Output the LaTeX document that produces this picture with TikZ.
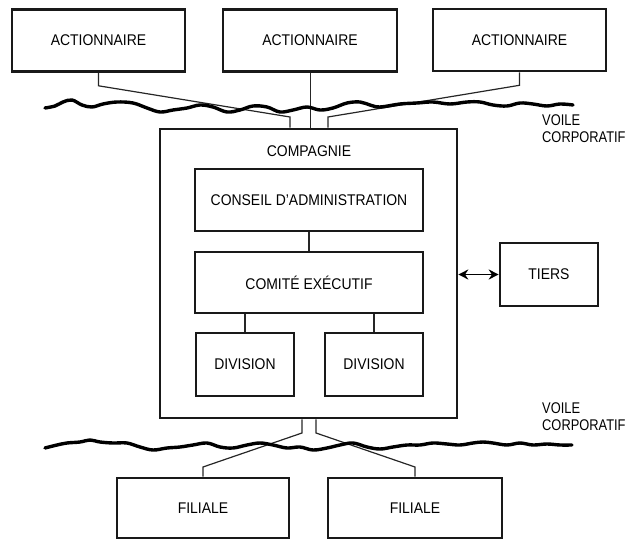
\documentclass[tikz,border=0pt]{standalone}
\usepackage{fontspec}
\setmainfont{Liberation Sans}[FakeStretch=0.9]
\newfontfamily\veilfont{Liberation Sans}[FakeStretch=0.83]
\usetikzlibrary{arrows.meta}
\begin{document}
\begin{tikzpicture}[x=1pt,y=-1pt,
  box/.style={draw=black!90,line width=2.6pt,inner sep=0pt,font=\fontsize{15.5}{17}\selectfont},
  conn/.style={line width=1.2pt,black!85},
  wave/.style={line width=3.4pt,line cap=round,line join=round},
  lbl/.style={font=\veilfont\fontsize{15.5}{17.5}\selectfont,align=left,anchor=north west,inner sep=0pt}]
\useasboundingbox (0,0) rectangle (632,540);
% top shareholders
\node[box,minimum width=173pt,minimum height=62pt] (act1) at (98.5,40.5) {ACTIONNAIRE};
\node[box,minimum width=174pt,minimum height=62pt] (act2) at (310,40.5) {ACTIONNAIRE};
\node[box,minimum width=173pt,minimum height=62pt] (act3) at (519.5,40) {ACTIONNAIRE};
% company
\node[box,minimum width=297pt,minimum height=289pt] (comp) at (308.5,273.5) {};
\node[font=\fontsize{15.5}{17}\selectfont] (compt) at (309,151) {COMPAGNIE};
\node[box,minimum width=228pt,minimum height=62pt] (cons) at (309,200) {CONSEIL D’ADMINISTRATION};
\node[box,minimum width=228pt,minimum height=61pt] (comi) at (309,282.5) {COMITÉ EXÉCUTIF};
\node[box,minimum width=98pt,minimum height=63pt] (div1) at (245,364.5) {DIVISION};
\node[box,minimum width=98pt,minimum height=63pt] (div2) at (374,364.5) {DIVISION};
\node[box,minimum width=98pt,minimum height=63pt] (tiers) at (549,274.5) {TIERS};
% subsidiaries
\node[box,minimum width=172pt,minimum height=60pt] (fil1) at (203,508) {FILIALE};
\node[box,minimum width=174pt,minimum height=60pt] (fil2) at (415,508) {FILIALE};
% labels
\node[lbl] (v1) at (542,114) {VOILE\\CORPORATIF};
\node[lbl] (v2) at (542,402) {VOILE\\CORPORATIF};
% connectors inside
\draw[conn] (cons.south) -- (comi.north);
\draw[conn,line width=1.6pt] (div1.north) -- (div1.north |- comi.south);
\draw[conn,line width=1.6pt] (div2.north) -- (div2.north |- comi.south);
\draw[line width=1.6pt,{Stealth[length=10pt,width=10pt]}-{Stealth[length=10pt,width=10pt]}] (comp.east |- tiers.west) -- (tiers.west);
% connectors top
\coordinate (ct1) at ([xshift=-18.5pt]comp.north);
\coordinate (ct3) at ([xshift=19.5pt]comp.north);
\draw[conn] (act1.south) -- ++(0,13) -- (ct1 |- 0,117) -- (ct1);
\draw[conn,line width=0.8pt] (act2.south) -- (act2.south |- comp.north);
\draw[conn] (act3.south) -- ++(0,13) -- (ct3 |- 0,117) -- (ct3);
% connectors bottom
\coordinate (cb1) at ([xshift=-6.5pt]comp.south);
\coordinate (cb2) at ([xshift=7.5pt]comp.south);
\draw[conn] (cb1) -- (cb1 |- 0,433) -- (fil1.north |- 0,467) -- (fil1.north);
\draw[conn] (cb2) -- (cb2 |- 0,433) -- (fil2.north |- 0,467) -- (fil2.north);
% veils
\draw[wave] plot[smooth,tension=0.6] coordinates {(45,108) (55,106) (63,102) (72,100) (82,105) (92,107) (103,104) (117,102) (133,103) (147,108) (160,112) (173,110) (187,108) (200,105) (213,107) (227,112) (240,110) (253,106) (267,107) (280,112) (293,110) (307,107) (320,110) (333,108) (347,103) (360,102) (370,105) (380,107) (400,104) (417,103) (433,102) (450,104) (467,102) (480,102) (493,105) (507,106) (520,103) (533,104) (547,106) (560,104) (573,105)};
\draw[wave] plot[smooth,tension=0.6] coordinates {(45,448) (57,445) (67,443) (80,442) (90,440) (100,442) (113,443) (127,443) (140,447) (153,450) (167,448) (180,447) (193,445) (207,443) (220,447) (233,448) (247,445) (260,443) (273,445) (287,448) (300,447) (313,450) (327,448) (340,445) (353,443) (367,447) (380,449) (393,447) (407,445) (420,445) (433,443) (447,444) (460,445) (473,443) (483,442) (493,443) (507,445) (520,443) (533,445) (547,444) (560,445) (572,445)};
\end{tikzpicture}
\end{document}
